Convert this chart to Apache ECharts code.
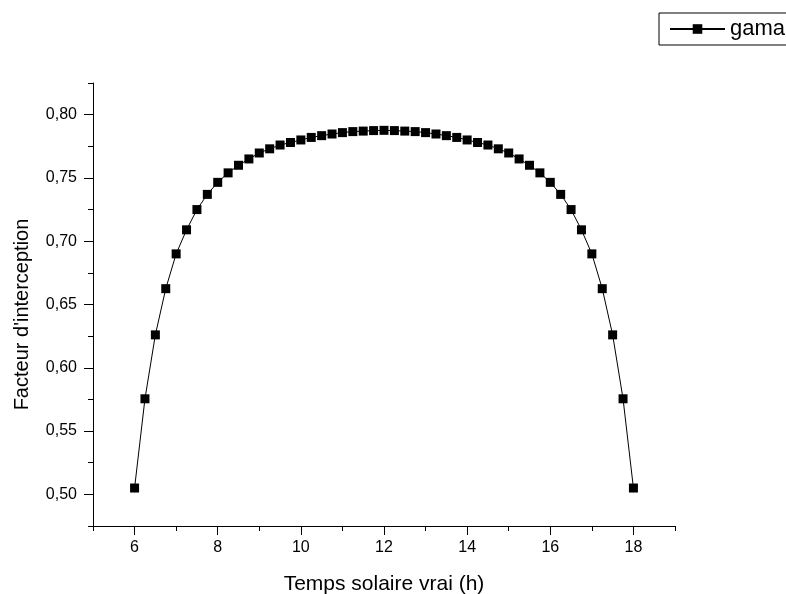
<!DOCTYPE html>
<html>
<head>
<meta charset="utf-8">
<script src="https://cdn.jsdelivr.net/npm/echarts@6/dist/echarts.min.js"></script>
<style>
  html, body { margin: 0; padding: 0; background: #fff; }
  #main { width: 786px; height: 594px; }
</style>
</head>
<body>
<div id="main"></div>
<script>
// heures (pas de 0,25 h)
const hours = [6, 6.25, 6.5, 6.75, 7, 7.25, 7.5, 7.75, 8, 8.25, 8.5, 8.75, 9, 9.25, 9.5, 9.75,
  10, 10.25, 10.5, 10.75, 11, 11.25, 11.5, 11.75, 12, 12.25, 12.5, 12.75, 13, 13.25, 13.5, 13.75,
  14, 14.25, 14.5, 14.75, 15, 15.25, 15.5, 15.75, 16, 16.25, 16.5, 16.75, 17, 17.25, 17.5, 17.75, 18];
// facteur d'interception
const gama = [0.505, 0.5755, 0.626, 0.6625, 0.690, 0.709, 0.725, 0.737, 0.7465, 0.754, 0.760, 0.765,
  0.7697, 0.773, 0.776, 0.778, 0.780, 0.782, 0.7834, 0.7847, 0.7858, 0.7866, 0.787, 0.7874, 0.7876,
  0.7874, 0.787, 0.7866, 0.7858, 0.7847, 0.7834, 0.782, 0.780, 0.778, 0.776, 0.773, 0.7697,
  0.765, 0.760, 0.754, 0.7465, 0.737, 0.725, 0.709, 0.690, 0.6625, 0.626, 0.5755, 0.505];
const xTickLabels = [6, 8, 10, 12, 14, 16, 18];
const yTickLabels = [0.50, 0.55, 0.60, 0.65, 0.70, 0.75, 0.80];

const font = 'Liberation Sans, Arial, sans-serif';
const black = '#000';
let myChart = echarts.init(document.getElementById('main'));
let option = {
  animation: false,
  backgroundColor: '#fff',
  grid: { left: 93, right: 111, top: 83, bottom: 68, containLabel: false, outerBoundsMode: 'none' },
  legend: {
    left: 659,
    top: 13,
    padding: [5, 10, 5, 10],
    borderColor: black,
    borderWidth: 1,
    borderRadius: 0,
    itemWidth: 55,
    itemHeight: 12,
    textStyle: { color: black, fontSize: 22, fontFamily: font },
    data: ['gama']
  },
  xAxis: [{
    type: 'value',
    min: 5,
    max: 19,
    interval: 1,
    name: 'Temps solaire vrai (h)',
    nameLocation: 'middle',
    nameGap: 48,
    nameTextStyle: { color: black, fontSize: 21, fontFamily: font },
    axisLine: { onZero: false, lineStyle: { color: black, width: 1 } },
    axisTick: { length: 9, customValues: xTickLabels, lineStyle: { color: black } },
    axisLabel: { color: black, fontSize: 16, fontFamily: font, margin: 14, customValues: xTickLabels },
    splitLine: { show: false }
  }, {
    // petites graduations
    type: 'value',
    position: 'bottom',
    min: 5,
    max: 19,
    interval: 1,
    axisLine: { show: false, onZero: false },
    axisTick: { show: true, length: 5, lineStyle: { color: black } },
    axisLabel: { show: false },
    splitLine: { show: false }
  }],
  yAxis: [{
    type: 'value',
    min: 0.475,
    max: 0.825,
    interval: 0.025,
    name: "Facteur d'interception",
    nameLocation: 'middle',
    nameGap: 61,
    nameTextStyle: { color: black, fontSize: 20, fontFamily: font, padding: [0, 20, 0, 0] },
    axisLine: { show: true, onZero: false, lineStyle: { color: black, width: 1 } },
    axisTick: { show: true, length: 9, customValues: yTickLabels, lineStyle: { color: black } },
    axisLabel: {
      color: black, fontSize: 16, fontFamily: font, margin: 16, customValues: yTickLabels,
      formatter: function (v) { return v.toFixed(2).replace('.', ','); }
    },
    splitLine: { show: false }
  }, {
    type: 'value',
    position: 'left',
    min: 0.475,
    max: 0.825,
    interval: 0.025,
    axisLine: { show: false, onZero: false },
    axisTick: { show: true, length: 5, lineStyle: { color: black } },
    axisLabel: { show: false },
    splitLine: { show: false }
  }],
  series: [{
    name: 'gama',
    type: 'line',
    xAxisIndex: 0,
    yAxisIndex: 0,
    data: hours.map(function (h, i) { return [h, gama[i]]; }),
    symbol: 'rect',
    symbolSize: 9,
    itemStyle: { color: black },
    lineStyle: { color: black, width: 1 }
  }]
};
myChart.setOption(option);
window.addEventListener('resize', function () { myChart.resize(); }, false);
</script>
</body>
</html>
